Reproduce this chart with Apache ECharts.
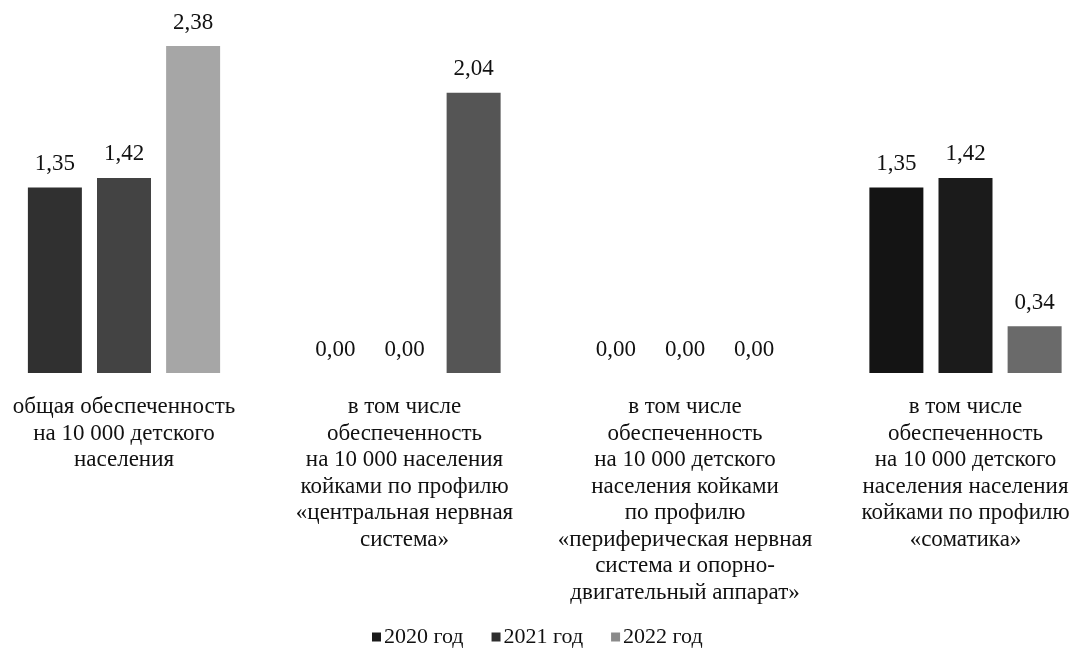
<!DOCTYPE html>
<html><head><meta charset="utf-8">
<script src="https://cdn.jsdelivr.net/npm/echarts@6/dist/echarts.min.js"></script>
<style>
html,body{margin:0;padding:0;background:#fff;overflow:hidden;width:1083px;height:648px}
#c{position:absolute;left:-30px;top:0;width:1150px;height:648px}
</style>
</head><body><div id="c"></div>
<script>
const categories = [
  "общая обеспеченность\nна 10 000 детского\nнаселения",
  "в том числе\nобеспеченность\nна 10 000 населения\nкойками по профилю\n«центральная нервная\nсистема»",
  "в том числе\nобеспеченность\nна 10 000 детского\nнаселения койками\nпо профилю\n«периферическая нервная\nсистема и опорно-\nдвигательный аппарат»",
  "в том числе\nобеспеченность\nна 10 000 детского\nнаселения населения\nкойками по профилю\n«соматика»"
];
const seriesNames = ["2020 год", "2021 год", "2022 год"];
const values2020 = [1.35, 0.00, 0.00, 1.35];
const values2021 = [1.42, 0.00, 0.00, 1.42];
const values2022 = [2.38, 2.04, 0.00, 0.34];

// shading (scan tones) per series and category
const legendColors = ["#1a1a1a", "#2e2e2e", "#8a8a8a"];
const shades = [
  ["#303030", "#303030", "#303030", "#141414"],
  ["#434343", "#434343", "#434343", "#1b1b1b"],
  ["#a6a6a6", "#555555", "#8a8a8a", "#6a6a6a"]
];

const font = "'Liberation Serif', 'Times New Roman', serif";
const allValues = [values2020, values2021, values2022];

const chart = echarts.init(document.getElementById('c'), null, {renderer: 'canvas'});
chart.setOption({
  backgroundColor: '#ffffff',
  animation: false,
  textStyle: {fontFamily: font, color: '#111'},
  grid: {left: 13.75, right: 14.25, top: 29.5, bottom: 275, containLabel: false},
  legend: {
    top: 621, left: 397, itemWidth: 9, itemHeight: 9, itemGap: 28,
    icon: 'rect',
    textStyle: {fontFamily: font, fontSize: 22, color: '#111', padding: [0,0,0,-2]},
    data: seriesNames.map((n, i) => ({name: n, itemStyle: {color: legendColors[i]}}))
  },
  xAxis: {
    type: 'category', data: categories,
    axisLine: {show: false}, axisTick: {show: false},
    axisLabel: {interval: 0, margin: 21, fontFamily: font, fontSize: 23, lineHeight: 26.5, color: '#111', align: 'center'}
  },
  yAxis: {type: 'value', min: 0, max: 2.5, show: false, splitLine: {show: false}},
  series: allValues.map((vals, si) => ({
    name: seriesNames[si], type: 'bar', barWidth: 54, barGap: '28%',
    itemStyle: {color: legendColors[si]},
    data: vals.map((v, ci) => ({value: v, itemStyle: {color: shades[si][ci]}})),
    label: {
      show: true, position: 'top', distance: 12,
      fontFamily: font, fontSize: 23, color: '#111',
      formatter: p => p.value.toFixed(2).replace('.', ',')
    }
  }))
});
</script></body></html>
